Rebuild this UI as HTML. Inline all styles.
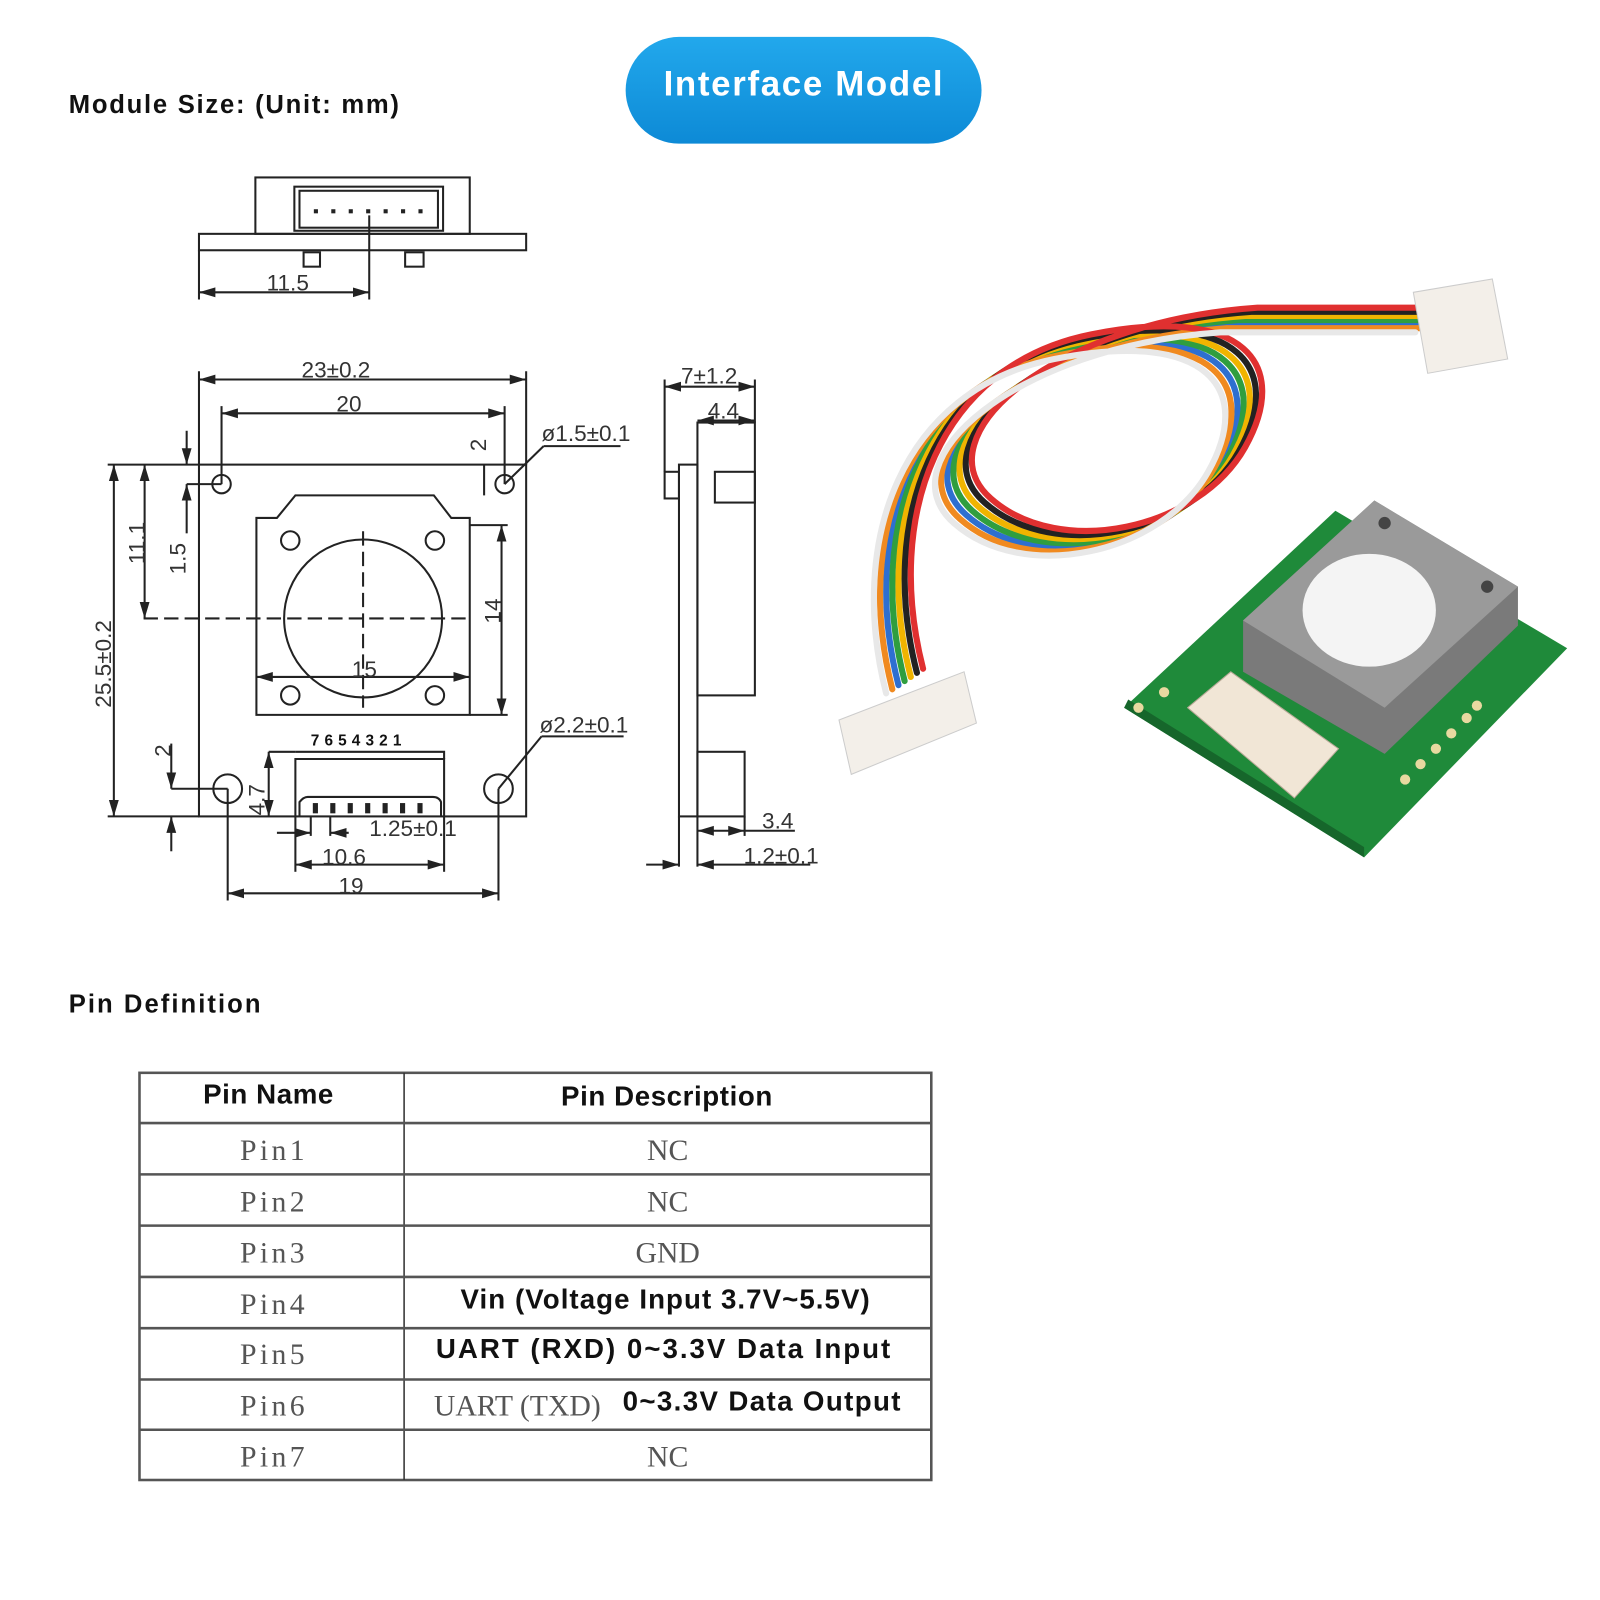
<!DOCTYPE html>
<html><head><meta charset="utf-8"><style>
html,body{margin:0;padding:0;background:#fff;}
svg{display:block}
.d{stroke:#222;stroke-width:2;fill:none}
.t{font-family:"Liberation Sans",sans-serif;fill:#333;font-size:22px}
.b{font-family:"Liberation Sans",sans-serif;font-weight:bold;fill:#111}
.s{font-family:"Liberation Serif",serif;fill:#555}
</style></head><body>
<svg width="1600" height="1600" viewBox="0 0 1560 1560" xmlns="http://www.w3.org/2000/svg">
<defs>
<marker id="a" viewBox="0 0 10 10" refX="10" refY="5" markerWidth="8" markerHeight="8" orient="auto-start-reverse"><path d="M0,2 L10,5 L0,8z" fill="#222"/></marker>
<linearGradient id="bg" x1="0" y1="0" x2="0" y2="1"><stop offset="0" stop-color="#22a8ec"/><stop offset="1" stop-color="#0d8ad6"/></linearGradient>
</defs>
<text x="67" y="110" class="b" font-size="25" fill="#2a1a2e" textLength="322">Module Size: (Unit: mm)</text>
<rect x="610" y="36" width="347" height="104" rx="52" fill="url(#bg)"/>
<text x="783" y="93" class="b" font-size="34" style="fill:#fff" text-anchor="middle" textLength="272">Interface Model</text>

<!-- top view -->
<g class="d">
<rect x="249" y="173" width="209" height="55"/>
<rect x="287" y="182" width="145" height="43"/>
<rect x="292" y="186" width="135" height="36"/>
<rect x="194" y="228" width="319" height="16"/>
<rect x="296" y="246" width="16" height="14"/><rect x="395" y="246" width="18" height="14"/>
<line x1="360" y1="210" x2="360" y2="292"/>
<line x1="194" y1="244" x2="194" y2="292"/>
<line x1="194" y1="285" x2="360" y2="285" marker-start="url(#a)" marker-end="url(#a)"/>
</g>
<g fill="#222"><rect x="306" y="204" width="4" height="4"/><rect x="323" y="204" width="4" height="4"/><rect x="340" y="204" width="4" height="4"/><rect x="357" y="204" width="4" height="4"/><rect x="374" y="204" width="4" height="4"/><rect x="391" y="204" width="4" height="4"/><rect x="408" y="204" width="4" height="4"/></g>
<text x="260" y="283" class="t">11.5</text>

<!-- main board -->
<g class="d">
<rect x="194" y="453" width="319" height="343"/>
<line x1="194" y1="453" x2="194" y2="362"/><line x1="513" y1="453" x2="513" y2="362"/>
<line x1="194" y1="370" x2="513" y2="370" marker-start="url(#a)" marker-end="url(#a)"/>
<line x1="216" y1="472" x2="216" y2="396"/><line x1="492" y1="472" x2="492" y2="396"/>
<line x1="216" y1="403" x2="492" y2="403" marker-start="url(#a)" marker-end="url(#a)"/>
<circle cx="216" cy="472" r="9"/><circle cx="492" cy="472" r="9"/>
<circle cx="222" cy="769" r="14"/><circle cx="486" cy="769" r="14"/>
<path d="M250,697 L250,505 L270,505 L288,483 L423,483 L440,505 L458,505 L458,697 Z"/>
<circle cx="283" cy="527" r="9"/><circle cx="424" cy="527" r="9"/><circle cx="283" cy="678" r="9"/><circle cx="424" cy="678" r="9"/>
<circle cx="354" cy="603" r="77"/>
<line x1="354" y1="518" x2="354" y2="690" stroke-dasharray="14,6"/>
<line x1="140" y1="603" x2="455" y2="603" stroke-dasharray="14,6"/>
<line x1="105" y1="453" x2="194" y2="453"/><line x1="105" y1="796" x2="194" y2="796"/>
<line x1="111" y1="453" x2="111" y2="796" marker-start="url(#a)" marker-end="url(#a)"/>
<line x1="141" y1="453" x2="141" y2="603" marker-start="url(#a)" marker-end="url(#a)"/>
<line x1="182" y1="420" x2="182" y2="453" marker-end="url(#a)"/>
<line x1="182" y1="472" x2="216" y2="472"/><line x1="182" y1="520" x2="182" y2="472" marker-end="url(#a)"/>
<line x1="472" y1="483" x2="472" y2="453"/>
<line x1="458" y1="512" x2="495" y2="512"/><line x1="458" y1="697" x2="495" y2="697"/>
<line x1="489" y1="512" x2="489" y2="697" marker-start="url(#a)" marker-end="url(#a)"/>
<line x1="250" y1="660" x2="458" y2="660" marker-start="url(#a)" marker-end="url(#a)"/>
<path d="M288,796 L288,740 L433,740 L433,796"/>
<path d="M288,733 L433,733 L433,740"/>
<path d="M292,796 L292,782 Q296,777 300,777 L422,777 Q428,777 430,782 L430,796"/>
<line x1="167" y1="725" x2="167" y2="769" marker-end="url(#a)"/>
<line x1="167" y1="769" x2="222" y2="769"/>
<line x1="167" y1="830" x2="167" y2="796" marker-end="url(#a)"/>
<line x1="262" y1="733" x2="288" y2="733"/>
<line x1="262" y1="733" x2="262" y2="796" marker-start="url(#a)" marker-end="url(#a)"/>
<line x1="288" y1="796" x2="288" y2="850"/><line x1="433" y1="796" x2="433" y2="850"/>
<line x1="288" y1="843" x2="433" y2="843" marker-start="url(#a)" marker-end="url(#a)"/>
<line x1="222" y1="769" x2="222" y2="878"/><line x1="486" y1="769" x2="486" y2="878"/>
<line x1="222" y1="871" x2="486" y2="871" marker-start="url(#a)" marker-end="url(#a)"/>
<line x1="270" y1="812" x2="303" y2="812" marker-end="url(#a)"/>
<line x1="340" y1="812" x2="322" y2="812" marker-end="url(#a)"/>
<line x1="303" y1="796" x2="303" y2="815"/><line x1="322" y1="796" x2="322" y2="815"/>
<line x1="492" y1="472" x2="530" y2="435"/><line x1="530" y1="435" x2="605" y2="435"/>
<line x1="486" y1="769" x2="528" y2="718"/><line x1="528" y1="718" x2="608" y2="718"/>
</g>
<g fill="#222"><rect x="305" y="783" width="5" height="10"/><rect x="322" y="783" width="5" height="10"/><rect x="339" y="783" width="5" height="10"/><rect x="356" y="783" width="5" height="10"/><rect x="373" y="783" width="5" height="10"/><rect x="390" y="783" width="5" height="10"/><rect x="407" y="783" width="5" height="10"/></g>
<text x="303" y="727" class="b" font-size="15" letter-spacing="5">7654321</text>
<text x="294" y="368" class="t">23±0.2</text>
<text x="328" y="401" class="t">20</text>
<text x="528" y="430" class="t" font-size="20">ø1.5±0.1</text>
<text x="526" y="714" class="t" font-size="20">ø2.2±0.1</text>
<text x="343" y="660" class="t">15</text>
<text x="314" y="843" class="t">10.6</text>
<text x="330" y="871" class="t">19</text>
<text x="360" y="815" class="t" font-size="20">1.25±0.1</text>
<text transform="translate(108,690) rotate(-90)" class="t" font-size="20">25.5±0.2</text>
<text transform="translate(141,550) rotate(-90)" class="t" font-size="20">11.1</text>
<text transform="translate(181,560) rotate(-90)" class="t" font-size="20">1.5</text>
<text transform="translate(474,440) rotate(-90)" class="t" font-size="20">2</text>
<text transform="translate(488,608) rotate(-90)" class="t" font-size="20">14</text>
<text transform="translate(166,738) rotate(-90)" class="t" font-size="20">2</text>
<text transform="translate(258,795) rotate(-90)" class="t" font-size="14">4.7</text>

<!-- side view -->
<g class="d">
<rect x="662" y="453" width="18" height="343"/>
<line x1="662" y1="796" x2="662" y2="845"/><line x1="680" y1="796" x2="680" y2="845"/>
<rect x="680" y="412" width="56" height="266"/>
<rect x="697" y="460" width="39" height="30"/>
<rect x="648" y="460" width="14" height="26"/>
<rect x="680" y="733" width="46" height="63"/>
<line x1="648" y1="460" x2="648" y2="370"/><line x1="736" y1="412" x2="736" y2="370"/>
<line x1="648" y1="377" x2="736" y2="377" marker-start="url(#a)" marker-end="url(#a)"/>
<line x1="680" y1="410" x2="736" y2="410" marker-start="url(#a)" marker-end="url(#a)"/>
<line x1="726" y1="796" x2="726" y2="815"/>
<line x1="680" y1="810" x2="726" y2="810" marker-start="url(#a)" marker-end="url(#a)"/>
<line x1="726" y1="810" x2="775" y2="810"/>
<line x1="630" y1="843" x2="662" y2="843" marker-end="url(#a)"/>
<line x1="680" y1="843" x2="790" y2="843" marker-start="url(#a)"/>
</g>
<text x="664" y="374" class="t">7±1.2</text>
<text x="690" y="408" class="t">4.4</text>
<text x="743" y="808" class="t" font-size="20">3.4</text>
<text x="725" y="842" class="t" font-size="20">1.2±0.1</text>

<!-- photo: cable -->
<g fill="none" stroke-width="6" stroke-linecap="round">
<g stroke="#2e6fd0"><path d="M876,668 C838,520 890,372 1040,342 S1235,372 1190,452 S1010,562 942,502 S1002,330 1202,316 L1392,316"/></g>
<g stroke="#2f9e3f" transform="translate(6,-4)"><path d="M876,668 C838,520 890,372 1040,342 S1235,372 1190,452 S1010,562 942,502 S1002,330 1202,316 L1392,316"/></g>
<g stroke="#f0b400" transform="translate(12,-8)"><path d="M876,668 C838,520 890,372 1040,342 S1235,372 1190,452 S1010,562 942,502 S1002,330 1202,316 L1392,316"/></g>
<g stroke="#222" transform="translate(18,-12)"><path d="M876,668 C838,520 890,372 1040,342 S1235,372 1190,452 S1010,562 942,502 S1002,330 1202,316 L1392,316"/></g>
<g stroke="#f08a20" transform="translate(-6,4)"><path d="M876,668 C838,520 890,372 1040,342 S1235,372 1190,452 S1010,562 942,502 S1002,330 1202,316 L1392,316"/></g>
<g stroke="#e03030" transform="translate(24,-16)"><path d="M876,668 C838,520 890,372 1040,342 S1235,372 1190,452 S1010,562 942,502 S1002,330 1202,316 L1392,316"/></g>
<g stroke="#e8e8e8" transform="translate(-12,8)"><path d="M876,668 C838,520 890,372 1040,342 S1235,372 1190,452 S1010,562 942,502 S1002,330 1202,316 L1392,316"/></g>
</g>
<polygon points="818,702 940,655 952,705 830,755" fill="#f3efe9" stroke="#ccc"/>
<polygon points="1378,285 1455,272 1470,350 1392,364" fill="#f3efe9" stroke="#ccc"/>
<!-- PCB -->
<polygon points="1096,690 1302,498 1528,632 1330,836" fill="#1f8a3a"/>
<polygon points="1096,690 1330,836 1330,826 1100,682" fill="#16662b"/>
<polygon points="1212,605 1340,488 1480,572 1480,610 1350,735 1212,655" fill="#7a7a7a"/>
<polygon points="1212,605 1340,488 1480,572 1350,690" fill="#9a9a9a"/>
<ellipse cx="1335" cy="595" rx="65" ry="55" fill="#f4f4f4"/>
<circle cx="1350" cy="510" r="6" fill="#444"/><circle cx="1450" cy="572" r="6" fill="#444"/>
<polygon points="1158,690 1200,655 1305,730 1262,778" fill="#f1e6d6" stroke="#b9ab98"/>
<g fill="#e8d9a0"><circle cx="1370" cy="760" r="5"/><circle cx="1385" cy="745" r="5"/><circle cx="1400" cy="730" r="5"/><circle cx="1415" cy="715" r="5"/><circle cx="1430" cy="700" r="5"/><circle cx="1440" cy="688" r="5"/><circle cx="1110" cy="690" r="5"/><circle cx="1135" cy="675" r="5"/></g>

<!-- Pin definition -->
<text x="67" y="987" class="b" font-size="25" fill="#2a1a2e" textLength="187">Pin Definition</text>
<g stroke="#555" stroke-width="2.5" fill="none">
<rect x="136" y="1046" width="772" height="397"/>
<line x1="394" y1="1046" x2="394" y2="1443" stroke-width="1.5" stroke="#333"/>
<line x1="136" y1="1095" x2="908" y2="1095"/><line x1="136" y1="1145" x2="908" y2="1145"/>
<line x1="136" y1="1195" x2="908" y2="1195"/><line x1="136" y1="1245" x2="908" y2="1245"/>
<line x1="136" y1="1295" x2="908" y2="1295"/><line x1="136" y1="1345" x2="908" y2="1345"/>
<line x1="136" y1="1394" x2="908" y2="1394"/>
</g>
<text x="198" y="1076" class="b" font-size="27" textLength="127">Pin Name</text>
<text x="547" y="1078" class="b" font-size="27" textLength="206">Pin Description</text>
<g class="s" font-size="29">
<text x="234" y="1131" textLength="63">Pin1</text><text x="234" y="1181" textLength="63">Pin2</text>
<text x="234" y="1231" textLength="63">Pin3</text><text x="234" y="1281" textLength="63">Pin4</text>
<text x="234" y="1330" textLength="63">Pin5</text><text x="234" y="1380" textLength="63">Pin6</text>
<text x="234" y="1430" textLength="63">Pin7</text>
<text x="651" y="1131" text-anchor="middle">NC</text><text x="651" y="1181" text-anchor="middle">NC</text>
<text x="651" y="1231" text-anchor="middle">GND</text><text x="651" y="1430" text-anchor="middle">NC</text>
<text x="423" y="1380">UART (TXD)</text>
</g>
<g class="b" font-size="27">
<text x="449" y="1276" textLength="399">Vin (Voltage Input 3.7V~5.5V)</text>
<text x="425" y="1324" textLength="443">UART (RXD) 0~3.3V Data Input</text>
<text x="607" y="1375" textLength="271">0~3.3V Data Output</text>
</g>
</svg>
</body></html>
